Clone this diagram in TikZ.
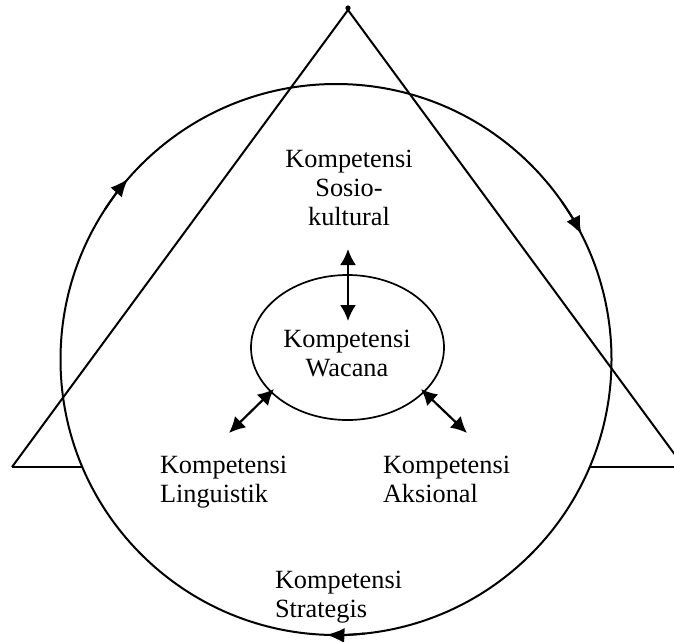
\documentclass[tikz,border=0pt]{standalone}
\usepackage{fontspec}
\setmainfont{Liberation Serif}
\usetikzlibrary{arrows.meta,shapes.geometric}
\begin{document}
\begin{tikzpicture}[x=1pt,y=-1pt,
  frame/.style={line width=2pt, line join=miter},
  lbl/.style={inner sep=0pt, outer sep=0pt, font=\fontsize{26.3}{29}\selectfont},
  dbl/.style={line width=2.2pt, {Latex[length=16pt,width=16pt]}-{Latex[length=16pt,width=16pt]}},
  cyc/.style={line width=2pt, -{Latex[length=18pt,width=15pt]}}
]
\useasboundingbox (0,0) rectangle (674,641);
\begin{scope}
\clip (0,0) rectangle (674,641);
\coordinate (apex) at (348,10);
\coordinate (bl) at (12,467);
\coordinate (br) at (684,467);
\coordinate (bli) at (82,467);
\coordinate (bri) at (590,467);
\coordinate (O) at (336,359.5);
\draw[frame] (bl) -- (apex) -- (br);
\draw[frame] (bl) -- (bli);
\draw[frame] (bri) -- (br);
\draw[frame] (O) circle[radius=275.5pt];
\draw[cyc] (O) ++(147:275.5pt) arc[start angle=147, end angle=139, radius=275.5pt];
\draw[cyc] (O) ++(35:275.5pt) arc[start angle=35, end angle=27, radius=275.5pt];
\draw[cyc] (O) ++(276:275.5pt) arc[start angle=276, end angle=268, radius=275.5pt];
\end{scope}
\fill (348,8) circle[radius=2.6pt];

\node[draw, ellipse, line width=1.7pt, minimum width=193pt, minimum height=145pt, inner sep=0pt] (wacell) at (347.5,347.5) {};
\node[lbl, anchor=north, align=center] (wac) at (347,330.5) {Kompetensi\\Wacana};
\node[lbl, anchor=north, align=center] (sos) at (349,150.5) {Kompetensi\\Sosio-\\kultural};
\node[lbl, anchor=north west, align=left] (lin) at (160,456.5) {Kompetensi\\Linguistik};
\node[lbl, anchor=north west, align=left] (aks) at (383,456.5) {Kompetensi\\Aksional};
\node[lbl, anchor=north west, align=left] (str) at (275,571.5) {Kompetensi\\Strategis};

\coordinate (a1) at (348,249);
\coordinate (a2) at (348,321);
\coordinate (b1) at (229,433);
\coordinate (b2) at (274,389);
\coordinate (c1) at (421,389);
\coordinate (c2) at (467,433);
\draw[dbl] (a1) -- (a2);
\draw[dbl] (b1) -- (b2);
\draw[dbl] (c1) -- (c2);
\end{tikzpicture}
\end{document}
